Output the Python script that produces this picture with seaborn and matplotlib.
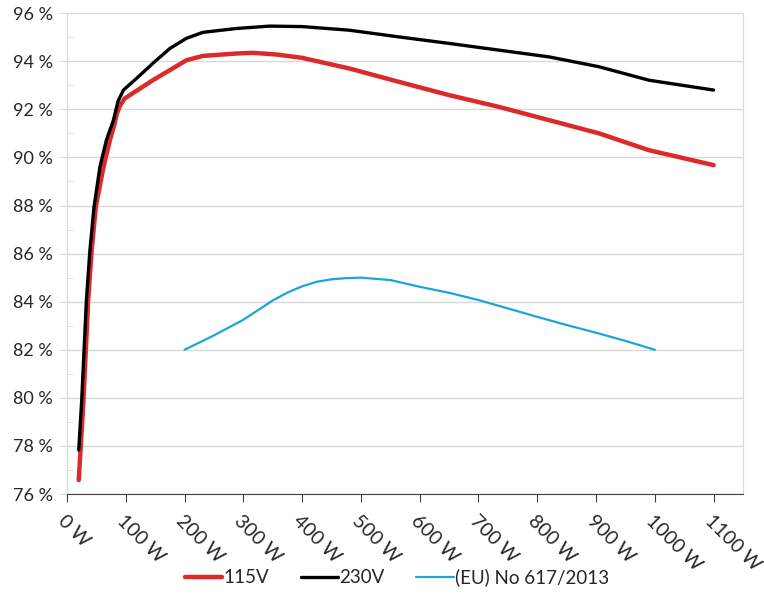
import numpy as np
import pandas as pd
import matplotlib
matplotlib.use('Agg')
import matplotlib.pyplot as plt
import seaborn as sb
from matplotlib.ticker import MultipleLocator, FuncFormatter

# values
w_115 = [20, 23, 28, 32, 36, 42, 49, 62, 73, 81, 85, 90, 98, 146, 175, 203, 231, 288, 316, 356, 400,
         480, 565, 650, 735, 820, 905, 990, 1100]
eff_115 = [76.58, 77.83, 79.9, 81.99, 84.07, 86.15, 87.95, 89.6, 90.72, 91.41, 91.83, 92.15, 92.45, 93.21,
           93.63, 94.04, 94.22, 94.32, 94.35, 94.28, 94.14, 93.7, 93.14, 92.59, 92.1, 91.55, 91.0, 90.3, 89.68]

w_230 = [20, 25, 29, 33, 39, 46, 56, 67, 79, 87, 96, 118, 146, 175, 203, 231, 288, 345, 400,
         480, 565, 650, 735, 820, 905, 990, 1100]
eff_230 = [77.83, 79.9, 81.99, 84.07, 86.15, 87.95, 89.6, 90.72, 91.55, 92.35, 92.8, 93.28, 93.91, 94.53,
           94.95, 95.2, 95.36, 95.46, 95.44, 95.29, 95.01, 94.74, 94.46, 94.18, 93.77, 93.21, 92.8]

w_eu = [200, 250, 300, 325, 350, 375, 400, 425, 450, 475, 500, 550, 600, 650, 700, 750, 800, 850, 900, 950, 1000]
eff_eu = [82.0, 82.6, 83.25, 83.65, 84.05, 84.38, 84.64, 84.83, 84.93, 84.98, 85.0, 84.9, 84.62, 84.37,
          84.07, 83.72, 83.37, 83.03, 82.71, 82.37, 82.0]

sb.set_style('white')
plt.rcParams['font.family'] = ['Lato', 'DejaVu Sans']

fig = plt.figure(figsize=(7.64, 5.96), dpi=100)
ax = fig.add_axes([0.0877, 0.171, 0.8848, 0.807])

sb.lineplot(x=w_115, y=eff_115, ax=ax, color='#dc2a2a', linewidth=3.2, label='115V',
            solid_capstyle='round', solid_joinstyle='round', sort=False)
sb.lineplot(x=w_230, y=eff_230, ax=ax, color='black', linewidth=2.4, label='230V',
            solid_capstyle='round', solid_joinstyle='round', sort=False)
sb.lineplot(x=w_eu, y=eff_eu, ax=ax, color='#1ba6d6', linewidth=1.6, label='(EU) No 617/2013',
            solid_joinstyle='round', sort=False)

ax.set_xlim(0, 1150)
ax.set_ylim(76, 96)
ax.xaxis.set_major_locator(MultipleLocator(100))
ax.yaxis.set_major_locator(MultipleLocator(2))
ax.yaxis.set_minor_locator(MultipleLocator(1))
ax.xaxis.set_major_formatter(FuncFormatter(lambda v, p: '%d W' % v if v <= 1100 else ''))
ax.yaxis.set_major_formatter(FuncFormatter(lambda v, p: '%d %%' % v))

ax.grid(axis='y', which='major', color='#d9d9d9', linewidth=1)
ax.set_axisbelow(True)

for s in ['left', 'right', 'top']:
    ax.spines[s].set_color('#d9d9d9')
ax.spines['bottom'].set_color('#404040')

ax.tick_params(axis='y', which='major', length=6, color='#d9d9d9', labelsize=13, pad=4, left=True)
ax.tick_params(axis='y', which='minor', length=4, color='#d9d9d9', direction='in', left=True)
ax.tick_params(axis='x', which='major', length=6, color='#404040', labelsize=14, bottom=True, pad=7)

for lab in ax.get_xticklabels():
    lab.set_rotation(-45)
    lab.set_ha('left')
    lab.set_va('top')
    lab.set_rotation_mode('anchor')

ax.legend(loc='center', bbox_to_anchor=(0.488, -0.173), ncol=3, frameon=False,
          fontsize=13.5, handlelength=2.0, columnspacing=1.7, handletextpad=0.05,
          borderaxespad=0)

plt.savefig('out.png', dpi=100)
